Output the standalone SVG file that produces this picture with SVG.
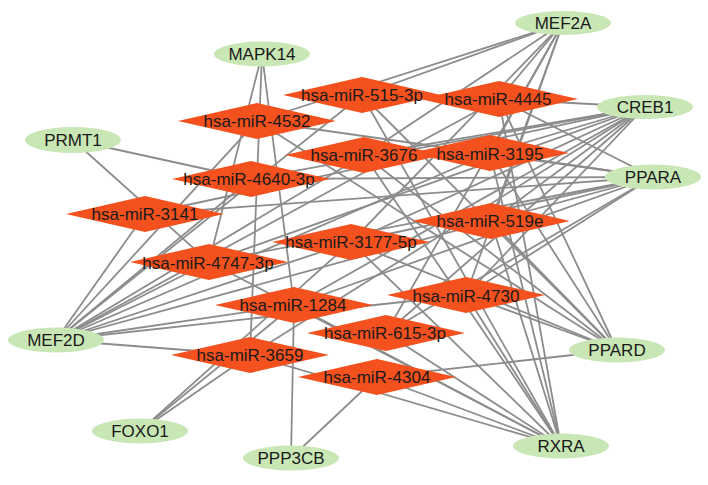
<svg xmlns="http://www.w3.org/2000/svg" width="708" height="485" viewBox="0 0 708 485">
<defs>
<style>
.e line{stroke:#8c8c8c;stroke-width:1.8;fill:none}
.g ellipse{fill:#c9e6b5}
.m polygon{fill:#f4511e}
text{font-family:"Liberation Sans",Arial,sans-serif;font-size:17px;fill:#1a1a1a;text-anchor:middle;dominant-baseline:central}
</style>
</defs>
<rect width="708" height="485" fill="#ffffff"/>
<g id="connectors" class="e">
<line x1="563" y1="23" x2="257" y2="121"/>
<line x1="563" y1="23" x2="362" y2="95"/>
<line x1="563" y1="23" x2="364" y2="155"/>
<line x1="563" y1="23" x2="499" y2="99"/>
<line x1="563" y1="23" x2="490" y2="153"/>
<line x1="563" y1="23" x2="491" y2="221"/>
<line x1="563" y1="23" x2="351" y2="242"/>
<line x1="563" y1="23" x2="466" y2="295"/>
<line x1="563" y1="23" x2="386" y2="333"/>
<line x1="645" y1="107" x2="499" y2="99"/>
<line x1="645" y1="107" x2="490" y2="153"/>
<line x1="645" y1="107" x2="364" y2="155"/>
<line x1="645" y1="107" x2="251" y2="179"/>
<line x1="645" y1="107" x2="209" y2="262"/>
<line x1="645" y1="107" x2="351" y2="242"/>
<line x1="645" y1="107" x2="294" y2="305"/>
<line x1="645" y1="107" x2="250" y2="355"/>
<line x1="645" y1="107" x2="491" y2="221"/>
<line x1="645" y1="107" x2="466" y2="295"/>
<line x1="645" y1="107" x2="386" y2="333"/>
<line x1="645" y1="107" x2="145" y2="214"/>
<line x1="653" y1="177" x2="499" y2="99"/>
<line x1="653" y1="177" x2="490" y2="153"/>
<line x1="653" y1="177" x2="251" y2="179"/>
<line x1="653" y1="177" x2="491" y2="221"/>
<line x1="653" y1="177" x2="351" y2="242"/>
<line x1="653" y1="177" x2="209" y2="262"/>
<line x1="653" y1="177" x2="294" y2="305"/>
<line x1="653" y1="177" x2="466" y2="295"/>
<line x1="653" y1="177" x2="386" y2="333"/>
<line x1="653" y1="177" x2="145" y2="214"/>
<line x1="653" y1="177" x2="257" y2="121"/>
<line x1="56" y1="340" x2="145" y2="214"/>
<line x1="56" y1="340" x2="257" y2="121"/>
<line x1="56" y1="340" x2="251" y2="179"/>
<line x1="56" y1="340" x2="362" y2="95"/>
<line x1="56" y1="340" x2="364" y2="155"/>
<line x1="56" y1="340" x2="209" y2="262"/>
<line x1="56" y1="340" x2="499" y2="99"/>
<line x1="56" y1="340" x2="490" y2="153"/>
<line x1="56" y1="340" x2="351" y2="242"/>
<line x1="56" y1="340" x2="491" y2="221"/>
<line x1="56" y1="340" x2="294" y2="305"/>
<line x1="56" y1="340" x2="466" y2="295"/>
<line x1="56" y1="340" x2="250" y2="355"/>
<line x1="617" y1="350" x2="377" y2="377"/>
<line x1="617" y1="350" x2="466" y2="295"/>
<line x1="617" y1="350" x2="351" y2="242"/>
<line x1="617" y1="350" x2="364" y2="155"/>
<line x1="617" y1="350" x2="491" y2="221"/>
<line x1="617" y1="350" x2="490" y2="153"/>
<line x1="617" y1="350" x2="499" y2="99"/>
<line x1="617" y1="350" x2="257" y2="121"/>
<line x1="617" y1="350" x2="362" y2="95"/>
<line x1="561" y1="446" x2="377" y2="377"/>
<line x1="561" y1="446" x2="386" y2="333"/>
<line x1="561" y1="446" x2="250" y2="355"/>
<line x1="561" y1="446" x2="294" y2="305"/>
<line x1="561" y1="446" x2="466" y2="295"/>
<line x1="561" y1="446" x2="491" y2="221"/>
<line x1="561" y1="446" x2="490" y2="153"/>
<line x1="561" y1="446" x2="499" y2="99"/>
<line x1="561" y1="446" x2="351" y2="242"/>
<line x1="561" y1="446" x2="364" y2="155"/>
<line x1="561" y1="446" x2="362" y2="95"/>
<line x1="561" y1="446" x2="209" y2="262"/>
<line x1="140" y1="431" x2="250" y2="355"/>
<line x1="140" y1="431" x2="294" y2="305"/>
<line x1="140" y1="431" x2="351" y2="242"/>
<line x1="291" y1="458" x2="294" y2="305"/>
<line x1="291" y1="458" x2="377" y2="377"/>
<line x1="262" y1="54" x2="209" y2="262"/>
<line x1="262" y1="54" x2="250" y2="355"/>
<line x1="262" y1="54" x2="294" y2="305"/>
<line x1="73" y1="140" x2="251" y2="179"/>
<line x1="73" y1="140" x2="209" y2="262"/>
</g>
<g class="m">
<g id="hsa-miR-515-3p"><polygon points="283,95 362,77 441,95 362,113"/><text x="362" y="95">hsa-miR-515-3p</text></g>
<g id="hsa-miR-4445"><polygon points="420,99 499,81 578,99 499,117"/><text x="498" y="99">hsa-miR-4445</text></g>
<g id="hsa-miR-4532"><polygon points="178,121 257,103 336,121 257,139"/><text x="257" y="121">hsa-miR-4532</text></g>
<g id="hsa-miR-3676"><polygon points="285,155 364,137 443,155 364,173"/><text x="364" y="155">hsa-miR-3676</text></g>
<g id="hsa-miR-3195"><polygon points="411,153 490,135 569,153 490,171"/><text x="490" y="154">hsa-miR-3195</text></g>
<g id="hsa-miR-4640-3p"><polygon points="172,179 251,161 330,179 251,197"/><text x="249" y="179">hsa-miR-4640-3p</text></g>
<g id="hsa-miR-3141"><polygon points="66,214 145,196 224,214 145,232"/><text x="145" y="214">hsa-miR-3141</text></g>
<g id="hsa-miR-519e"><polygon points="412,221 491,203 570,221 491,239"/><text x="490" y="221">hsa-miR-519e</text></g>
<g id="hsa-miR-3177-5p"><polygon points="272,242 351,224 430,242 351,260"/><text x="351" y="242">hsa-miR-3177-5p</text></g>
<g id="hsa-miR-4747-3p"><polygon points="130,262 209,244 288,262 209,280"/><text x="208" y="263">hsa-miR-4747-3p</text></g>
<g id="hsa-miR-4730"><polygon points="387,295 466,277 545,295 466,313"/><text x="466" y="296">hsa-miR-4730</text></g>
<g id="hsa-miR-1284"><polygon points="215,305 294,287 373,305 294,323"/><text x="293" y="305">hsa-miR-1284</text></g>
<g id="hsa-miR-615-3p"><polygon points="307,333 386,315 465,333 386,351"/><text x="385" y="333">hsa-miR-615-3p</text></g>
<g id="hsa-miR-3659"><polygon points="171,355 250,337 329,355 250,373"/><text x="250" y="355">hsa-miR-3659</text></g>
<g id="hsa-miR-4304"><polygon points="298,377 377,359 456,377 377,395"/><text x="377" y="377">hsa-miR-4304</text></g>
</g>
<g class="g">
<g id="MEF2A"><ellipse cx="563" cy="23" rx="48" ry="12"/><text x="563" y="23">MEF2A</text></g>
<g id="MAPK14"><ellipse cx="262" cy="54" rx="48" ry="12.5"/><text x="262" y="54">MAPK14</text></g>
<g id="CREB1"><ellipse cx="645" cy="107" rx="48" ry="12"/><text x="645" y="107">CREB1</text></g>
<g id="PRMT1"><ellipse cx="73" cy="140" rx="48" ry="13"/><text x="73" y="140">PRMT1</text></g>
<g id="PPARA"><ellipse cx="653" cy="177" rx="48" ry="12.5"/><text x="653" y="177">PPARA</text></g>
<g id="MEF2D"><ellipse cx="56" cy="340" rx="48" ry="12.5"/><text x="56" y="340">MEF2D</text></g>
<g id="FOXO1"><ellipse cx="140" cy="431" rx="48" ry="12.5"/><text x="140" y="431">FOXO1</text></g>
<g id="PPP3CB"><ellipse cx="291" cy="458" rx="48" ry="12.5"/><text x="291" y="458">PPP3CB</text></g>
<g id="PPARD"><ellipse cx="617" cy="350" rx="48" ry="12.5"/><text x="617" y="350">PPARD</text></g>
<g id="RXRA"><ellipse cx="561" cy="446" rx="48" ry="12.5"/><text x="561" y="446">RXRA</text></g>
</g>
</svg>
